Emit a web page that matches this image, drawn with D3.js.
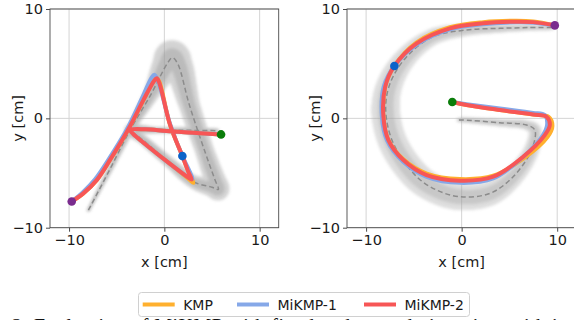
<!DOCTYPE html>
<html>
<head>
<meta charset="utf-8">
<script src="https://cdn.jsdelivr.net/npm/d3@7"></script>
<style>
  body { margin: 0; background: #fff; }
  svg { display: block; font-family: "DejaVu Sans", sans-serif; }
</style>
</head>
<body>
<div id="container"></div>
<script>
var width = 574, height = 320;

// ---- data (cm) ----
var ticks = [-10, 0, 10];
var seriesNames = ["KMP", "MiKMP-1", "MiKMP-2"];

// letter A : demonstration mean [x, y, spread]
var meanA = [[-7.97,-8.4,0.15],[-5.8,-4.8,0.25],[-3.6,-1.07,0.35],[-1.4,2.2,0.7],[0.3,5.0,1.3],[0.84,5.55,1.6],
  [1.4,5.0,1.3],[2.6,1.3,0.95],[4.2,-2.9,0.85],[5.3,-5.6,0.95],[5.67,-6.5,1.0],[5.0,-6.3,0.85],[3.05,-5.8,0.6],
  [0.5,-4.0,0.5],[-2.5,-1.8,0.45],[-3.6,-1.07,0.55],[-1,-1.08,0.3],[3,-1.1,0.3],[5.67,-1.13,0.2]];
var kmpA = [[-9.72,-7.6],[-8.5,-6.86],[-7.1,-5.65],[-5.7,-3.8],[-3.78,-1.0],[-2.2,1.67],[-1.1,3.45],[-0.8,3.7],
  [-0.5,3.3],[0.6,-0.6],[1.89,-3.45],[2.6,-5.0],[3.05,-5.9],[2.5,-5.5],[0.5,-4.1],[-1.8,-2.5],[-3.3,-1.4],
  [-3.6,-1.05],[-2,-1.0],[0.25,-1.16],[3,-1.32],[5.95,-1.47]];
var mikmp1A = [[-9.72,-7.6],[-8.6,-6.8],[-7.25,-5.55],[-5.85,-3.75],[-3.9,-0.95],[-2.4,1.75],[-1.35,3.7],[-1.05,3.98],
  [-0.7,3.5],[0.6,-0.5],[1.89,-3.45],[2.65,-4.85],[2.95,-5.55],[2.45,-5.35],[0.5,-4.1],[-1.8,-2.5],[-3.3,-1.4],
  [-3.6,-1.05],[-2,-1.0],[0.25,-1.16],[3,-1.32],[5.95,-1.47]];
var mikmp2A = [[-9.72,-7.6],[-8.5,-6.86],[-7.1,-5.65],[-5.7,-3.8],[-3.78,-1.0],[-2.2,1.67],[-1.1,3.4],[-0.8,3.66],
  [-0.55,3.3],[0.6,-0.6],[1.89,-3.45],[2.5,-4.85],[2.87,-5.6],[2.4,-5.35],[0.5,-4.1],[-1.8,-2.5],[-3.3,-1.4],
  [-3.6,-1.05],[-2,-1.0],[0.25,-1.16],[3,-1.32],[5.95,-1.47]];
var startA = [-9.72,-7.6], viaA = [1.89,-3.45], endA = [5.95,-1.47];

// letter G
var meanG = [[9.4,8.3,0.25],[7,8.3,0.3],[4.0,8.23,0.4],[0.52,8.08,0.55],[-2.97,7.47,0.75],[-5.75,5.64,0.95],
  [-7.49,3.2,1.15],[-7.95,0.76,1.3],[-7.15,-2.29,1.3],[-4.7,-5.34,1.3],[-2.5,-6.6,1.25],[-0.18,-7.17,1.2],
  [2.96,-6.86,1.1],[5.39,-5.34,0.9],[7.31,-2.9,0.7],[7.66,-1.07,0.6],[6.79,-0.61,0.45],[4.0,-0.4,0.35],
  [0.17,-0.15,0.25],[-0.35,-0.15,0.2]];
var kmpG = [[9.75,8.5],[7.5,8.85],[5.75,8.92],[2.26,8.8],[-1.22,8.33],[-4.7,6.95],[-7.04,4.79],[-8.0,2.9],
  [-8.19,0.15],[-7.67,-1.99],[-6.1,-3.75],[-3.66,-5.05],[-0.18,-5.55],[3.3,-5.25],[6.6,-3.6],[9.0,-1.7],
  [9.5,-0.7],[9.1,0.15],[7.48,0.35],[4.0,0.76],[0.52,1.22],[-0.98,1.5]];
var mikmp1G = [[9.75,8.5],[7.5,8.75],[5.75,8.78],[2.26,8.6],[-1.22,8.13],[-4.7,6.75],[-7.04,4.79],[-8.15,2.9],
  [-8.35,0.15],[-7.8,-2.05],[-6.15,-3.95],[-3.66,-5.35],[-0.18,-5.9],[3.3,-5.5],[6.35,-3.6],[8.5,-1.55],
  [8.95,-0.55],[8.7,0.3],[7.48,0.5],[4.0,0.9],[0.52,1.3],[-0.98,1.5]];
var mikmp2G = [[9.75,8.5],[7.5,8.8],[5.75,8.84],[2.26,8.69],[-1.22,8.23],[-4.7,6.86],[-7.04,4.79],[-8.0,2.9],
  [-8.19,0.15],[-7.67,-1.99],[-6.1,-3.81],[-3.66,-5.19],[-0.18,-5.7],[3.3,-5.34],[6.44,-3.51],[8.7,-1.53],
  [9.23,-0.61],[8.88,0.15],[7.48,0.35],[4.0,0.76],[0.52,1.22],[-0.98,1.5]];
var startG = [9.75,8.5], viaG = [-7.04,4.79], endG = [-0.98,1.5];

var lineColors = ["#ffb02e", "#86a8e8", "#f75656"];
var pointColors = { start: "#7a2c8e", via: "#0b63c9", end: "#0a7d0a" };

const SVG = d3.select("#container").append("svg")
  .attr("width", width).attr("height", height);

var defs = SVG.append("defs");
defs.append("filter").attr("id", "soft").attr("x", "-20%").attr("y", "-20%").attr("width", "140%").attr("height", "140%")
  .append("feGaussianBlur").attr("stdDeviation", 1.8);

function panel(id, left, right, mean, series, start, via, end, shade) {
  var top = 9, bottom = 227.7;
  var x = d3.scaleLinear().domain([-12, 12]).range([left, right]);
  var y = d3.scaleLinear().domain([-10, 10]).range([bottom, top]);
  var g = SVG.append("g");

  defs.append("clipPath").attr("id", "clip" + id)
    .append("rect").attr("x", left).attr("y", top).attr("width", right - left).attr("height", bottom - top);

  // grid
  g.selectAll(".gx").data(ticks).enter().append("line")
    .attr("x1", d => x(d)).attr("x2", d => x(d)).attr("y1", top).attr("y2", bottom)
    .attr("stroke", "#d4d4d4").attr("stroke-width", 1);
  g.selectAll(".gy").data(ticks).enter().append("line")
    .attr("y1", d => y(d)).attr("y2", d => y(d)).attr("x1", left).attr("x2", right)
    .attr("stroke", "#d4d4d4").attr("stroke-width", 1);

  var plot = g.append("g").attr("clip-path", "url(#clip" + id + ")");
  var line = d3.line().x(d => x(d[0])).y(d => y(d[1])).curve(d3.curveCatmullRom.alpha(0.5));

  // demonstration spread: circles sampled along mean path
  var tmp = plot.append("path").attr("d", line(mean)).attr("fill", "none");
  var node = tmp.node(), L = node.getTotalLength();
  var samples = d3.range(0, L, 1.2).map(l => node.getPointAtLength(l));
  var j = 0;
  var keyIdx = mean.map(d => {
    var px = x(d[0]), py = y(d[1]), best = j, bd = Infinity;
    for (var k = j; k < samples.length; k++) {
      var dd = (samples[k].x - px) ** 2 + (samples[k].y - py) ** 2;
      if (dd < bd) { bd = dd; best = k; }
      if (bd < 4 && dd > 100) break;
    }
    j = best;
    return best;
  });
  tmp.remove();
  var unit = y(0) - y(1);
  var band = samples.map((s, i) => {
    var m = 0;
    while (m < keyIdx.length - 2 && keyIdx[m + 1] < i) m++;
    var a = keyIdx[m], b = keyIdx[m + 1];
    var t = b > a ? Math.max(0, Math.min(1, (i - a) / (b - a))) : 0;
    return { x: s.x, y: s.y, r: (mean[m][2] + t * (mean[m + 1][2] - mean[m][2])) * unit };
  });
  [[1, shade, "#a8a8a8"], [0.55, shade * 0.8, "#999"]].forEach(function(layer) {
    plot.append("g").attr("opacity", layer[1]).attr("filter", "url(#soft)")
      .selectAll("circle").data(band).enter().append("circle")
      .attr("cx", d => d.x).attr("cy", d => d.y).attr("r", d => Math.max(1.2, d.r * layer[0]))
      .attr("fill", layer[2]);
  });

  plot.append("path").attr("d", line(mean)).attr("fill", "none")
    .attr("stroke", "#8c8c8c").attr("stroke-width", 1.5).attr("stroke-dasharray", "5,3");

  series.forEach(function(s, i) {
    plot.append("path").attr("d", line(s)).attr("fill", "none")
      .attr("stroke", lineColors[i]).attr("stroke-width", 4)
      .attr("stroke-linecap", "round").attr("stroke-linejoin", "round");
  });

  [[start, pointColors.start], [via, pointColors.via], [end, pointColors.end]].forEach(function(p) {
    plot.append("circle").attr("cx", x(p[0][0])).attr("cy", y(p[0][1])).attr("r", 4.3).attr("fill", p[1]);
  });

  // spines
  g.append("rect").attr("x", left).attr("y", top).attr("width", right - left).attr("height", bottom - top)
    .attr("fill", "none").attr("stroke", "#4a4a4a").attr("stroke-width", 0.9);

  var xa = g.append("g").attr("transform", `translate(0,${bottom})`)
    .call(d3.axisBottom(x).tickValues(ticks).tickSize(4).tickSizeOuter(0).tickPadding(3));
  var ya = g.append("g").attr("transform", `translate(${left},0)`)
    .call(d3.axisLeft(y).tickValues(ticks).tickSize(4).tickSizeOuter(0).tickPadding(3));
  [xa, ya].forEach(function(a) {
    a.select(".domain").remove();
    a.selectAll("line").attr("stroke", "#4a4a4a");
    a.selectAll("text").attr("font-size", "14.5px").attr("fill", "#1a1a1a").style("font-family", "DejaVu Sans");
  });

  g.append("text").attr("x", x(0)).attr("y", 266.5).attr("text-anchor", "middle")
    .attr("font-size", "14.5px").attr("fill", "#1a1a1a").text("x [cm]");
  g.append("text").attr("transform", `translate(${left - 27.5},${y(0)}) rotate(-90)`)
    .attr("text-anchor", "middle").attr("font-size", "14.5px").attr("fill", "#1a1a1a").text("y [cm]");
}

panel("A", 50, 278.7, meanA, [kmpA, mikmp1A, mikmp2A], startA, viaA, endA, 0.5);
panel("G", 347, 576.3, meanG, [kmpG, mikmp1G, mikmp2G], startG, viaG, endG, 0.38);

// legend
var LEGEND = SVG.append("g");
LEGEND.append("rect").attr("x", 138.5).attr("y", 292.5).attr("width", 331).attr("height", 24).attr("rx", 3)
  .attr("fill", "#fff").attr("stroke", "#d0d0d0");
var legX = [142.7, 237, 364];
LEGEND.selectAll("line").data(seriesNames).enter().append("line")
  .attr("x1", (d, i) => legX[i]).attr("x2", (d, i) => legX[i] + 32)
  .attr("y1", 304.5).attr("y2", 304.5)
  .attr("stroke", (d, i) => lineColors[i]).attr("stroke-width", 4);
LEGEND.selectAll("text").data(seriesNames).enter().append("text")
  .attr("x", (d, i) => legX[i] + 40.5).attr("y", 309.5)
  .attr("font-size", "14px").attr("fill", "#1a1a1a").text(d => d);

// caption (cut off by the page edge, as in the source)
SVG.append("text").attr("x", 12).attr("y", 333)
  .attr("textLength", 560).attr("lengthAdjust", "spacing")
  .style("font-family", "Liberation Serif").attr("font-size", "20px").attr("fill", "#111")
  .text("2:   Evaluation of MiKMP with fixed and moved via-points with its");
</script>
</body>
</html>
